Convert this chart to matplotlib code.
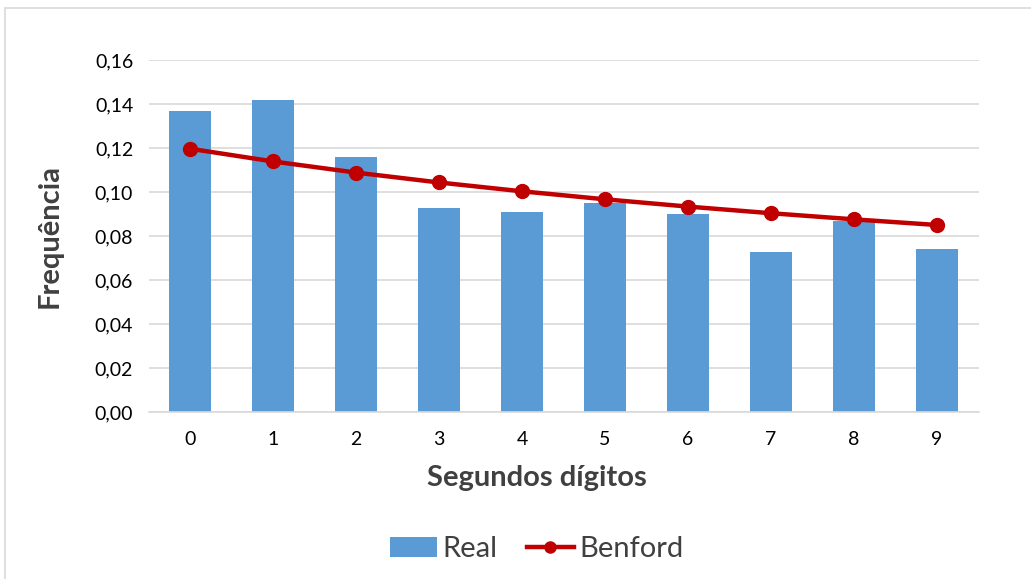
import matplotlib.pyplot as plt
from matplotlib.patches import Rectangle
from matplotlib.ticker import FuncFormatter

plt.rcParams['font.family'] = ['Lato', 'DejaVu Sans']

digitos = [0, 1, 2, 3, 4, 5, 6, 7, 8, 9]
real = [0.1368, 0.1418, 0.1159, 0.0927, 0.0910, 0.0951, 0.0900, 0.0729, 0.0868, 0.0740]
benford = [0.11968, 0.11389, 0.10882, 0.10433, 0.10031, 0.09668, 0.09337, 0.09035, 0.08757, 0.08500]
yticks = [0.00, 0.02, 0.04, 0.06, 0.08, 0.10, 0.12, 0.14, 0.16]

fig = plt.figure(figsize=(10.31, 5.79), dpi=100)
fig.patches.append(Rectangle((5 / 1031, -0.1), 1.2, 1 - 8 / 579 + 0.1, transform=fig.transFigure,
                             fill=False, edgecolor='#d9d9d9', linewidth=1.2))
ax = fig.add_axes([148.5 / 1031, 1 - 412 / 579, 830 / 1031, 352 / 579])

barras = ax.bar(digitos, real, width=0.5, color='#5b9bd5', label='Real', zorder=2)
linha, = ax.plot(digitos, benford, color='#c00000', linewidth=3.2, marker='o', markersize=10,
                 label='Benford', zorder=3)

ax.set_xlim(-0.5, 9.5)
ax.set_ylim(0, 0.16)
ax.set_xticks(digitos)
ax.set_yticks(yticks)
ax.yaxis.set_major_formatter(FuncFormatter(lambda v, p: f'{v:.2f}'.replace('.', ',')))
ax.tick_params(axis='both', length=0, labelsize=14, colors='#000000')
ax.tick_params(axis='x', pad=14)
ax.tick_params(axis='y', pad=11)
ax.grid(axis='y', color='#d9d9d9', linewidth=1.2, zorder=0)
for s in ['top', 'right', 'left']:
    ax.spines[s].set_visible(False)
ax.spines['bottom'].set_color('#d9d9d9')
ax.spines['bottom'].set_linewidth(1.2)

# titulos dos eixos centrados na area do grafico, nao so no eixo
ax.set_xlabel('Segundos dígitos', fontsize=21, fontweight='bold', color='#404040', va='center')
ax.set_ylabel('Frequência', fontsize=21, fontweight='bold', color='#404040', va='center')
ax.xaxis.set_label_coords(0.468, -(478 - 412) / 352)
ax.yaxis.set_label_coords(-(148.5 - 50) / 830, 0.5)

leg = fig.legend([barras, linha], ['Real', 'Benford'], loc='center',
                 bbox_to_anchor=(537 / 1031, 1 - 549 / 579), ncol=2, frameon=False,
                 fontsize=21, handlelength=1.6, columnspacing=1.0, handletextpad=0.2,
                 markerscale=0.8)
for t in leg.get_texts():
    t.set_color('#404040')

fig.savefig('out.png', dpi=100)
